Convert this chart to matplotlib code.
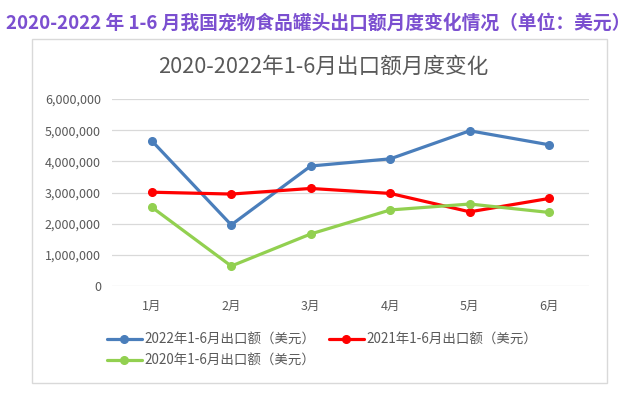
import matplotlib
matplotlib.use('Agg')
import matplotlib.pyplot as plt
from matplotlib.patches import Rectangle
from matplotlib.ticker import FuncFormatter

plt.rcParams['font.family'] = ['Noto Sans CJK SC', 'DejaVu Sans']

months = ['1月', '2月', '3月', '4月', '5月', '6月']
exports_2022 = [4660000, 1960000, 3850000, 4080000, 4980000, 4530000]
exports_2021 = [3010000, 2950000, 3130000, 2970000, 2380000, 2810000]
exports_2020 = [2530000, 640000, 1670000, 2440000, 2630000, 2360000]
series_names = ['2022年1-6月出口额（美元）', '2021年1-6月出口额（美元）', '2020年1-6月出口额（美元）']
colors = ['#4A7EBB', '#FF0000', '#92D050']

W, H = 636, 393
fig = plt.figure(figsize=(W / 100, H / 100), dpi=100)

# chart frame
fig.patches.append(Rectangle((32 / W, 1 - 383 / H), 575 / W, 344 / H,
                             transform=fig.transFigure, fill=False,
                             edgecolor='#d9d9d9', linewidth=1))

fig.text(0.5, 1 - 23 / H, '2020-2022 年 1-6 月我国宠物食品罐头出口额月度变化情况（单位：美元）',
         ha='center', va='center', fontsize=13.5, fontweight='bold', color='#7B4FD0')
fig.text(323 / W, 1 - 67 / H, '2020-2022年1-6月出口额月度变化',
         ha='center', va='center', fontsize=15.6, color='#595959')

ax = fig.add_axes([112 / W, 1 - 286 / H, 477 / W, 187 / H])
x = range(len(months))
for vals, name, c in zip([exports_2022, exports_2021, exports_2020], series_names, colors):
    ax.plot(x, vals, color=c, lw=2.3, marker='o', ms=5.5, label=name, solid_capstyle='round')

ax.set_xlim(-0.5, len(months) - 0.5)
ax.set_ylim(0, 6000000)
ax.set_yticks(range(0, 6000001, 1000000))
ax.yaxis.set_major_formatter(FuncFormatter(lambda v, p: f'{int(v):,}'))
ax.set_xticks(list(x))
ax.set_xticklabels(months)
ax.tick_params(length=0, labelsize=9, labelcolor='#595959')
ax.tick_params(axis='y', pad=8)
ax.tick_params(axis='x', pad=10)
ax.grid(axis='y', color='#d9d9d9', lw=0.9)
ax.set_axisbelow(True)
for s in ax.spines.values():
    s.set_visible(False)

h, l = ax.get_legend_handles_labels()
# row-wise order: 2022, 2021 on first row, 2020 below
order = [0, 2, 1]
leg = fig.legend([h[i] for i in order], [l[i] for i in order], ncol=2,
                 loc='center', bbox_to_anchor=(322 / W, 1 - 350 / H),
                 frameon=False, fontsize=9.7, handlelength=2.6, handletextpad=0.2,
                 columnspacing=1.0, labelspacing=0.55, borderpad=0)
for t in leg.get_texts():
    t.set_color('#595959')

fig.savefig('out.png', dpi=100)
